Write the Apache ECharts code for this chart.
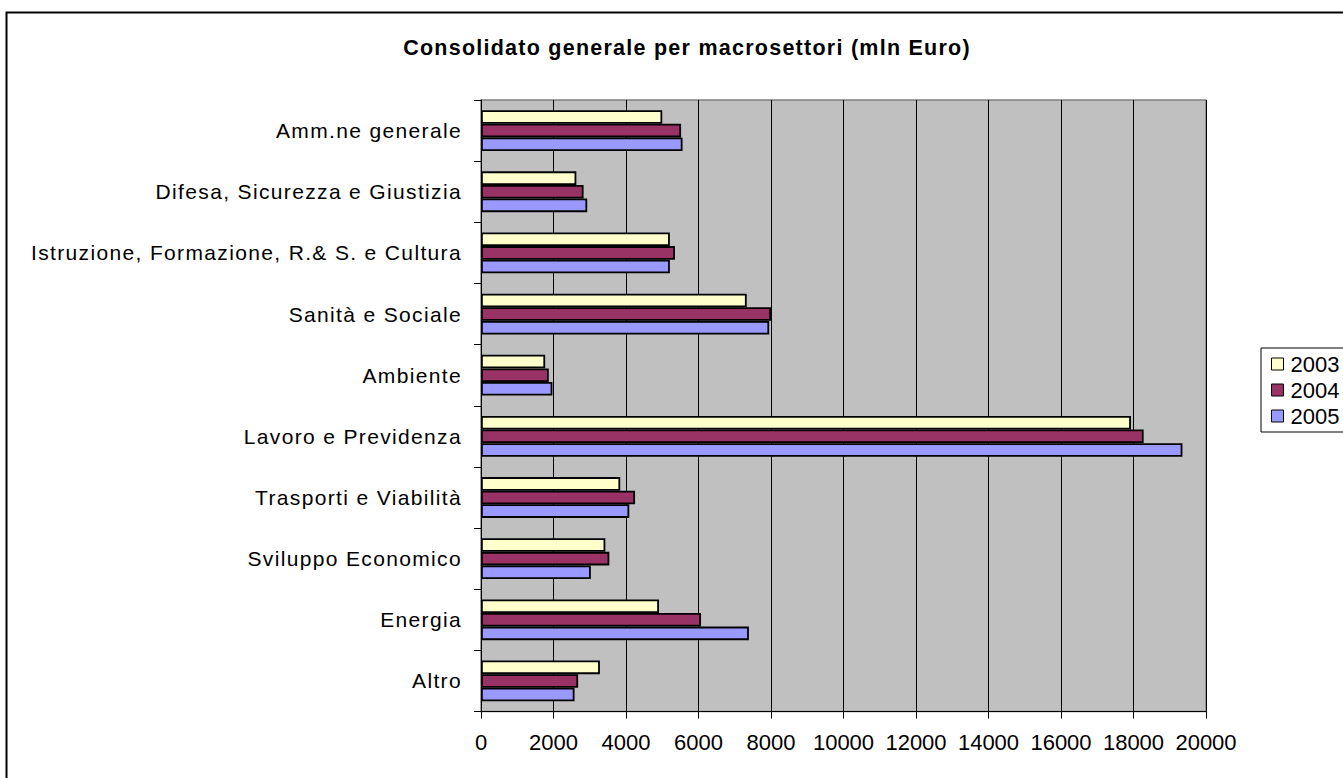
<!DOCTYPE html>
<html>
<head>
<meta charset="utf-8">
<script src="https://cdn.jsdelivr.net/npm/echarts@6/dist/echarts.min.js"></script>
<style>
html,body{margin:0;padding:0;background:#fff;}
#chart{width:1343px;height:778px;}
#chart svg text[style*="21.5px"], #chart svg text[font-size="21.5px"], #chart svg text[font-size="21.5"] {letter-spacing:1.25px;}
#chart svg text[style*="21px"], #chart svg text[font-size="21px"], #chart svg text[font-size="21"] {letter-spacing:1.35px;}
</style>
</head>
<body>
<div id="chart"></div>
<script>
var categories = [
  'Amm.ne generale',
  'Difesa, Sicurezza e Giustizia',
  'Istruzione, Formazione, R.& S. e Cultura',
  'Sanità e Sociale',
  'Ambiente',
  'Lavoro e Previdenza',
  'Trasporti e Viabilità',
  'Sviluppo Economico',
  'Energia',
  'Altro'
];
var seriesNames = ['2003', '2004', '2005'];
var values2003 = [5000, 2630, 5210, 7330, 1770, 17930, 3840, 3430, 4910, 3280];
var values2004 = [5520, 2830, 5350, 8000, 1870, 18280, 4250, 3540, 6070, 2680];
var values2005 = [5560, 2930, 5210, 7950, 1970, 19350, 4090, 3030, 7390, 2580];
var xTicks = {min: 0, max: 20000, interval: 2000};
var colors = ['#FFFFCC', '#993366', '#9999FF'];

var FONT = '"Liberation Sans", Arial, sans-serif';
var chart = echarts.init(document.getElementById('chart'), null, {renderer: 'svg'});
var allValues = [values2003, values2004, values2005];
var series = seriesNames.map(function (name, i) {
  return {
    name: name,
    type: 'bar',
    data: allValues[i],
    barWidth: 13.6,
    barGap: '0%',
    itemStyle: {color: colors[i], borderColor: '#000', borderWidth: 1.8},
    emphasis: {disabled: true}
  };
});
chart.setOption({
  animation: false,
  textStyle: {fontFamily: FONT},
  title: {
    text: 'Consolidato generale per macrosettori (mln Euro)',
    left: 682, top: 32, textAlign: 'center',
    textStyle: {fontSize: 21.5, fontWeight: 'bold', color: '#000', fontFamily: FONT}
  },
  graphic: [{
    type: 'rect', left: 4, top: 10, silent: true,
    shape: {width: 1400, height: 800},
    style: {fill: 'none', stroke: '#000', lineWidth: 2}
  }],
  legend: {
    data: seriesNames,
    orient: 'vertical',
    left: 1261, top: 348,
    borderColor: '#000', borderWidth: 1,
    padding: [5, 30, 5, 10],
    itemWidth: 12, itemHeight: 12, itemGap: 4,
    icon: 'rect',
    textStyle: {fontSize: 22, color: '#000', fontFamily: FONT, padding: [0, 0, 0, 2]},
    itemStyle: {borderColor: '#000', borderWidth: 1}
  },
  grid: {
    left: 481, right: 137, top: 100, bottom: 66.5,
    show: true, backgroundColor: '#C0C0C0', borderColor: '#808080', borderWidth: 1.5
  },
  xAxis: {
    type: 'value', min: xTicks.min, max: xTicks.max, interval: xTicks.interval,
    axisLine: {show: true, lineStyle: {color: '#000', width: 1}},
    axisTick: {show: true, length: 7, lineStyle: {color: '#000'}},
    axisLabel: {fontSize: 22, color: '#000', margin: 20, fontFamily: FONT,
      formatter: function (v) { return String(v); }},
    splitLine: {show: true, lineStyle: {color: '#000', width: 1}}
  },
  yAxis: {
    type: 'category', data: categories, inverse: true,
    axisLine: {show: true, lineStyle: {color: '#000', width: 1}},
    axisTick: {show: true, length: 7, lineStyle: {color: '#000'}},
    axisLabel: {fontSize: 21, color: '#000', margin: 19, fontFamily: FONT, padding: [0, 0, 2, 0]},
    splitLine: {show: false}
  },
  series: series
});
</script>
</body>
</html>
